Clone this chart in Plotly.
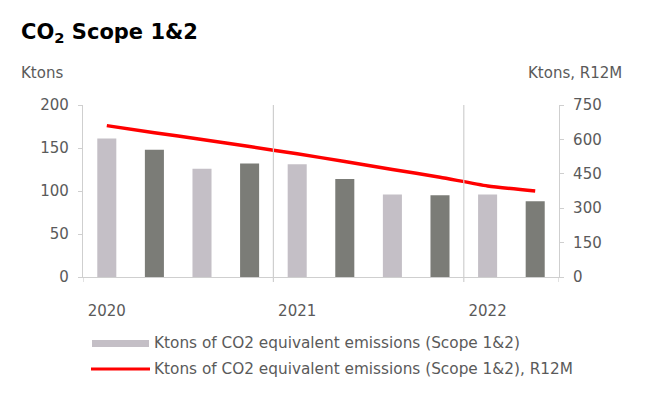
import plotly.graph_objects as go

quarters = ["Q1 2020", "Q2 2020", "Q3 2020", "Q4 2020",
            "Q1 2021", "Q2 2021", "Q3 2021", "Q4 2021",
            "Q1 2022", "Q2 2022"]
emissions = [161, 148, 126, 132, 131, 114, 96, 95, 96, 88]
emissions_r12m = [660, 629, 600, 569, 537, 504, 469, 435, 397, 375]
year_ticks = ["Q1 2020", "Q1 2021", "Q1 2022"]
year_labels = ["2020", "2021", "2022"]
left_ticks = [0, 50, 100, 150, 200]
right_ticks = [0, 150, 300, 450, 600, 750]

LIGHT = "#c4bfc6"
DARK = "#7b7c77"
bar_colors = [LIGHT if i % 2 == 0 else DARK for i in range(len(quarters))]
TXT = "#5a5a5a"
AX = "#cfcfcf"
FONT = "DejaVu Sans"

W, H = 660, 398
L, R, T, B = 83, 559, 105, 277


def px(x):
    return (x - L) / (R - L)


def py(y):
    return (B - y) / (B - T)


fig = go.Figure()
fig.add_trace(go.Bar(x=quarters, y=emissions, marker=dict(color=bar_colors, line=dict(width=0)),
                     width=0.4, showlegend=False, yaxis="y"))
fig.add_trace(go.Scatter(x=quarters, y=emissions_r12m, mode="lines",
                         line=dict(color="#ff0000", width=3.5, shape="spline", smoothing=0.6),
                         showlegend=False, yaxis="y2"))

# year dividers / boundary ticks
for xv in [-0.5, 3.5, 7.5, 9.5]:
    inner = xv in (3.5, 7.5)
    fig.add_shape(type="line", xref="x", yref="paper", x0=xv, x1=xv,
                  y0=-5 / 172, y1=1 if inner else 0, line=dict(color=AX, width=1.2))

fig.update_layout(
    width=W, height=H,
    margin=dict(l=L, r=W - R, t=T, b=H - B),
    paper_bgcolor="white", plot_bgcolor="white",
    font=dict(family=FONT, size=15, color=TXT),
    bargap=0.6,
    xaxis=dict(type="category", range=[-0.5, 9.5], tickmode="array",
               tickvals=year_ticks, ticktext=year_labels,
               ticks="outside", ticklen=20, tickcolor="rgba(0,0,0,0)",
               showline=True, linecolor=AX, linewidth=1.2, showgrid=False,
               tickfont=dict(size=15, color=TXT)),
    yaxis=dict(range=[0, 200], tickvals=left_ticks, ticks="outside", ticklen=4,
               tickcolor=AX, showline=True, linecolor=AX, linewidth=1.2,
               showgrid=False, zeroline=False, ticklabelstandoff=6,
               tickfont=dict(size=15, color=TXT)),
    yaxis2=dict(range=[0, 750], tickvals=right_ticks, overlaying="y", side="right",
                ticks="outside", ticklen=4, tickcolor=AX, showline=True,
                linecolor=AX, linewidth=1.2, showgrid=False, zeroline=False,
                ticklabelstandoff=6, tickfont=dict(size=15, color=TXT)),
)

annots = [
    dict(text="<b>CO<sub>2</sub> Scope 1&2</b>", x=px(19), y=py(33), xanchor="left",
         yanchor="middle", font=dict(size=21, color="#000000", family=FONT)),
    dict(text="Ktons", x=px(19), y=py(73), xanchor="left", yanchor="middle",
         font=dict(size=15, color=TXT)),
    dict(text="Ktons, R12M", x=px(624), y=py(73), xanchor="right", yanchor="middle",
         font=dict(size=15, color=TXT)),
    dict(text="Ktons of CO2 equivalent emissions (Scope 1&2)", x=px(152), y=py(343),
         xanchor="left", yanchor="middle", font=dict(size=15.3, color=TXT)),
    dict(text="Ktons of CO2 equivalent emissions (Scope 1&2), R12M", x=px(152), y=py(369),
         xanchor="left", yanchor="middle", font=dict(size=15.3, color=TXT)),
]
for a in annots:
    a.update(xref="paper", yref="paper", showarrow=False)
    fig.add_annotation(**a)

# custom legend swatches
fig.add_shape(type="rect", xref="paper", yref="paper", x0=px(92), x1=px(149),
              y0=py(347), y1=py(340), fillcolor=LIGHT, line=dict(width=0))
fig.add_shape(type="line", xref="paper", yref="paper", x0=px(91), x1=px(150),
              y0=py(369), y1=py(369), line=dict(color="#ff0000", width=3))

fig.write_html("out.html", config={"displayModeBar": False},
               post_script="document.body.style.margin='0';")
